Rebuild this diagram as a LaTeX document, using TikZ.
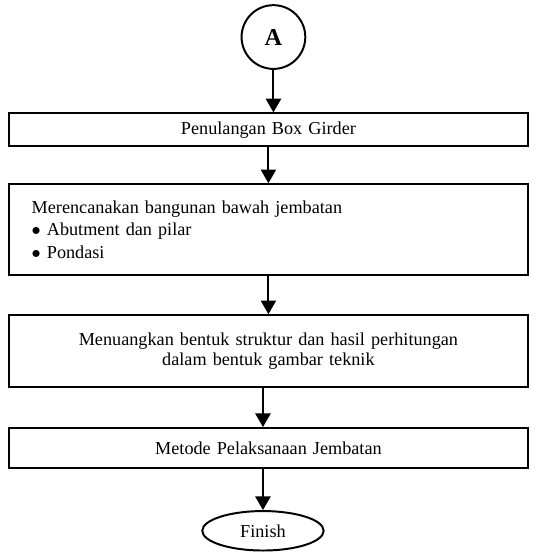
\documentclass[tikz,border=0pt]{standalone}
\usepackage{fontspec}
\setmainfont{Liberation Serif}
\usetikzlibrary{arrows.meta,positioning,shapes.geometric}
\tikzset{
	flownode/.style = {align=center, inner sep=0pt, draw=black,
		line width=1.3pt, font=\fontsize{12}{14.5}\selectfont},
	flw_box/.style = {flownode, rectangle, minimum width=342pt,
		text width=330pt},
	flw_circ/.style = {flownode, circle, minimum size=42pt,
		font=\fontsize{16}{18}\selectfont\bfseries},
	flw_end/.style = {flownode, ellipse, minimum width=80pt,
		minimum height=26pt}
}

\begin{document}
\begin{tikzpicture}[->,>={Triangle[length=9pt,width=10pt]},line width=1.3pt]
\useasboundingbox (0,0) rectangle (355.2pt,-365.1pt);
\node [flw_circ] (A) at (180.2pt,-24.4pt) {A};
\node [flw_box, below=28pt of A, xshift=-3.3pt, minimum height=21.7pt] (b1) {Penulangan Box Girder};
\node [flw_box, below=23.7pt of b1, minimum height=60pt, align=left,
	text width=312pt, inner xsep=15pt, font=\fontsize{12}{14.8}\selectfont] (b2)
	{Merencanakan bangunan bawah jembatan\\
	$\bullet$\hspace{4pt}Abutment dan pilar\\
	$\bullet$\hspace{4pt}Pondasi};
\node [flw_box, below=25pt of b2, minimum height=47.4pt,
	font=\fontsize{12}{13.2}\selectfont] (b3)
	{Menuangkan bentuk struktur dan hasil perhitungan\\dalam bentuk gambar teknik};
\node [flw_box, below=25.7pt of b3, minimum height=26.4pt] (b4) {Metode Pelaksanaan Jembatan};
\node [flw_end, below=27pt of b4, xshift=-3.6pt] (fin) {Finish};

\draw (A) -- (A |- b1.north);
\draw (b1) -- (b2);
\draw (b2) -- (b3);
\draw (fin |- b3.south) -- (fin |- b4.north);
\draw (fin |- b4.south) -- (fin);
\end{tikzpicture}
\end{document}
